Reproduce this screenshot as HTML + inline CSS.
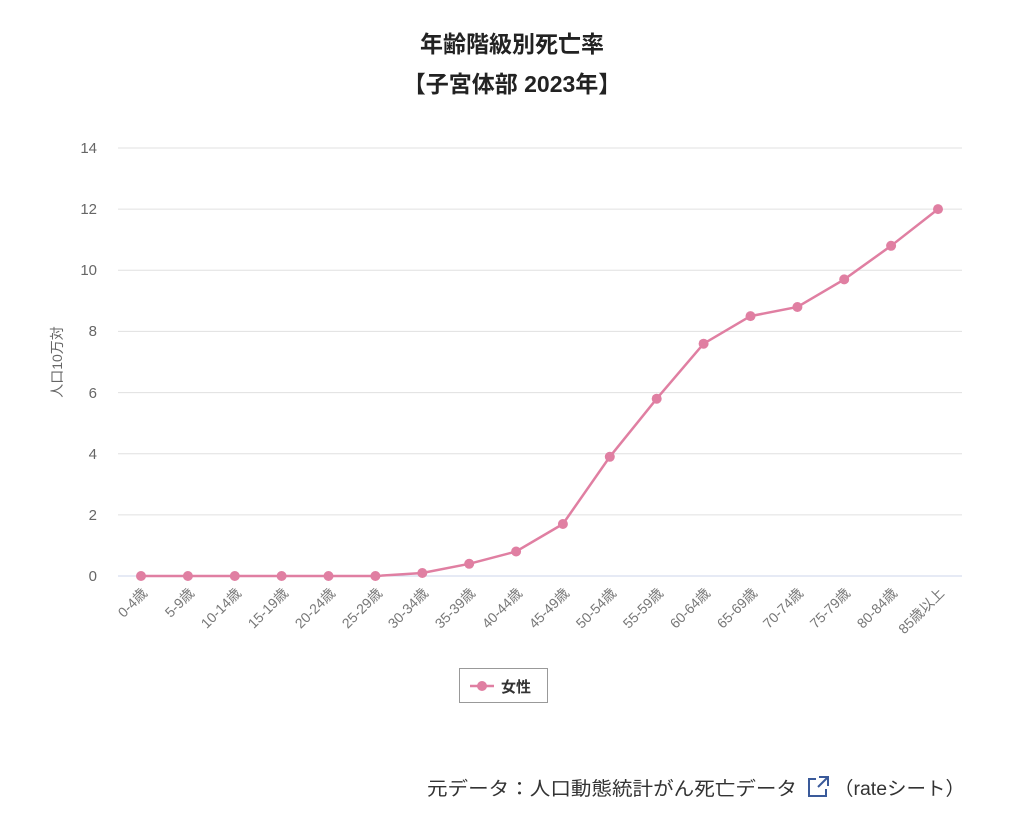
<!DOCTYPE html>
<html><head><meta charset="utf-8"><style>
body{margin:0;background:#fff;width:1024px;height:834px;overflow:hidden;font-family:"Liberation Sans","Noto Sans CJK JP",sans-serif;}
</style></head><body>
<svg width="1024" height="834" xmlns="http://www.w3.org/2000/svg" style="font-family:'Liberation Sans','Noto Sans CJK JP',sans-serif">
<text x="512" y="52" text-anchor="middle" font-size="23" font-weight="bold" fill="#222">年齢階級別死亡率</text>
<text x="512" y="92" text-anchor="middle" font-size="23" font-weight="bold" fill="#222">【子宮体部 2023年】</text>
<g stroke="#e0e0e0" stroke-width="1">
<line x1="118" x2="962" y1="148" y2="148"/><line x1="118" x2="962" y1="209.1" y2="209.1"/>
<line x1="118" x2="962" y1="270.3" y2="270.3"/><line x1="118" x2="962" y1="331.4" y2="331.4"/>
<line x1="118" x2="962" y1="392.6" y2="392.6"/><line x1="118" x2="962" y1="453.7" y2="453.7"/>
<line x1="118" x2="962" y1="514.9" y2="514.9"/>
</g>
<line x1="118" x2="962" y1="576" y2="576" stroke="#ccd6eb"/>
<g font-size="15" fill="#666" text-anchor="end">
<text x="97" y="153">14</text><text x="97" y="214">12</text><text x="97" y="275">10</text>
<text x="97" y="336">8</text><text x="97" y="398">6</text><text x="97" y="459">4</text>
<text x="97" y="520">2</text><text x="97" y="581">0</text>
</g>
<text transform="translate(62,362) rotate(-90)" text-anchor="middle" font-size="14" fill="#666">人口10万対</text>
<polyline fill="none" stroke="#e07fa2" stroke-width="2.5" points="141,576 187.9,576 234.8,576 281.6,576 328.5,576 375.4,576 422.3,573 469.2,563.8 516.1,551.5 562.9,524 609.8,456.8 656.7,398.7 703.6,343.7 750.5,316.1 797.4,307 844.2,279.4 891.1,245.8 938,209.1"/>
<g fill="#e07fa2">
<circle cx="141" cy="576" r="5"/><circle cx="187.9" cy="576" r="5"/><circle cx="234.8" cy="576" r="5"/>
<circle cx="281.6" cy="576" r="5"/><circle cx="328.5" cy="576" r="5"/><circle cx="375.4" cy="576" r="5"/>
<circle cx="422.3" cy="573" r="5"/><circle cx="469.2" cy="563.8" r="5"/><circle cx="516.1" cy="551.5" r="5"/>
<circle cx="562.9" cy="524" r="5"/><circle cx="609.8" cy="456.8" r="5"/><circle cx="656.7" cy="398.7" r="5"/>
<circle cx="703.6" cy="343.7" r="5"/><circle cx="750.5" cy="316.1" r="5"/><circle cx="797.4" cy="307" r="5"/>
<circle cx="844.2" cy="279.4" r="5"/><circle cx="891.1" cy="245.8" r="5"/><circle cx="938" cy="209.1" r="5"/>
</g>
<g font-size="14" fill="#777" text-anchor="end">
<text transform="translate(148,594) rotate(-45)">0-4歳</text>
<text transform="translate(195,594) rotate(-45)">5-9歳</text>
<text transform="translate(242,594) rotate(-45)">10-14歳</text>
<text transform="translate(289,594) rotate(-45)">15-19歳</text>
<text transform="translate(336,594) rotate(-45)">20-24歳</text>
<text transform="translate(383,594) rotate(-45)">25-29歳</text>
<text transform="translate(429,594) rotate(-45)">30-34歳</text>
<text transform="translate(476,594) rotate(-45)">35-39歳</text>
<text transform="translate(523,594) rotate(-45)">40-44歳</text>
<text transform="translate(570,594) rotate(-45)">45-49歳</text>
<text transform="translate(617,594) rotate(-45)">50-54歳</text>
<text transform="translate(664,594) rotate(-45)">55-59歳</text>
<text transform="translate(711,594) rotate(-45)">60-64歳</text>
<text transform="translate(758,594) rotate(-45)">65-69歳</text>
<text transform="translate(804,594) rotate(-45)">70-74歳</text>
<text transform="translate(851,594) rotate(-45)">75-79歳</text>
<text transform="translate(898,594) rotate(-45)">80-84歳</text>
<text transform="translate(945,594) rotate(-45)">85歳以上</text>
</g>
<rect x="459.5" y="668.5" width="88" height="34" fill="#fff" stroke="#999"/>
<line x1="470" x2="494" y1="686" y2="686" stroke="#e07fa2" stroke-width="2.5"/>
<circle cx="482" cy="686" r="5" fill="#e07fa2"/>
<text x="501" y="692" font-size="15" font-weight="bold" fill="#333">女性</text>
<text x="427" y="795" font-size="19" fill="#333" textLength="370" lengthAdjust="spacingAndGlyphs">元データ：人口動態統計がん死亡データ</text>
<g stroke="#3a5a9a" stroke-width="2" fill="none">
<path d="M816 779 h-7 v17 h17 v-7"/><path d="M819 777 h9 v9 M828 777 l-10 10"/>
</g>
<text x="834" y="795" font-size="19" fill="#333" textLength="131" lengthAdjust="spacingAndGlyphs">（rateシート）</text>
</svg>
</body></html>
